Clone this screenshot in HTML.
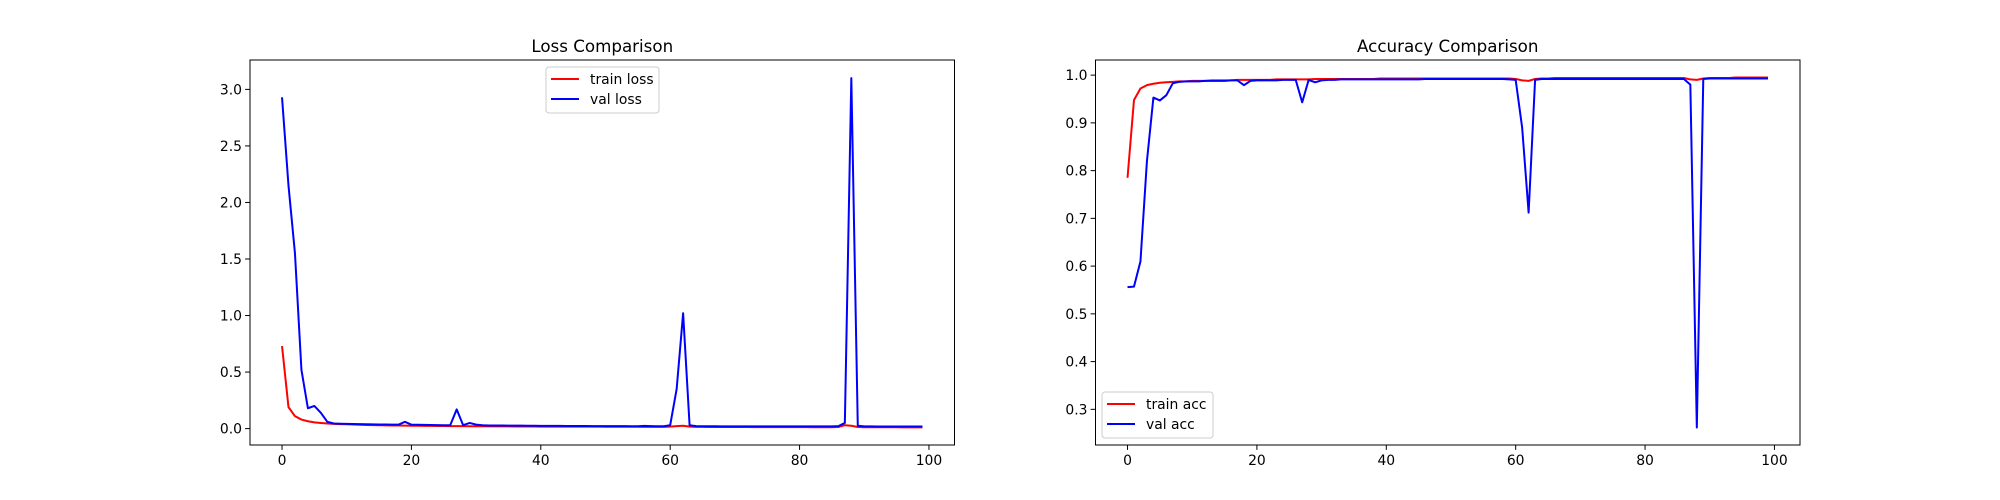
<!DOCTYPE html>
<html><head><meta charset="utf-8">
<style>
html,body{margin:0;padding:0;background:#fff;}
svg{display:block;font-family:"DejaVu Sans","Liberation Sans",sans-serif;}
</style></head>
<body>
<svg id="fig" width="2000" height="500" viewBox="0 0 2000 500" xmlns="http://www.w3.org/2000/svg"></svg>
<script>
const epochs = Array.from({length:100},(_,i)=>i);
const trainLoss = [0.73,0.19,0.11,0.08,0.065,0.055,0.05,0.045,0.042,0.04,0.038,0.036,0.034,0.032,0.031,0.03,0.029,0.028,0.027,0.026,0.025,0.025,0.024,0.024,0.023,0.023,0.022,0.022,0.022,0.021,0.021,0.021,0.02,0.02,0.02,0.02,0.019,0.019,0.019,0.019,0.018,0.018,0.018,0.018,0.018,0.017,0.017,0.017,0.017,0.017,0.016,0.016,0.016,0.016,0.016,0.016,0.015,0.015,0.015,0.015,0.018,0.022,0.025,0.018,0.015,0.015,0.014,0.014,0.014,0.014,0.014,0.014,0.014,0.013,0.013,0.013,0.013,0.013,0.013,0.013,0.013,0.013,0.012,0.012,0.012,0.012,0.014,0.03,0.025,0.014,0.012,0.012,0.012,0.012,0.012,0.012,0.011,0.011,0.011,0.011];
const valLoss = [2.93,2.15,1.55,0.52,0.18,0.2,0.14,0.06,0.045,0.043,0.042,0.041,0.04,0.038,0.037,0.036,0.036,0.035,0.035,0.06,0.035,0.034,0.033,0.032,0.031,0.03,0.03,0.17,0.03,0.05,0.035,0.03,0.028,0.027,0.027,0.026,0.026,0.026,0.025,0.025,0.024,0.024,0.024,0.024,0.023,0.023,0.023,0.023,0.022,0.022,0.022,0.022,0.022,0.022,0.021,0.021,0.024,0.022,0.021,0.021,0.03,0.35,1.02,0.03,0.022,0.021,0.021,0.021,0.02,0.02,0.02,0.02,0.02,0.02,0.02,0.02,0.02,0.02,0.02,0.02,0.02,0.02,0.02,0.02,0.02,0.02,0.022,0.05,3.1,0.025,0.02,0.02,0.019,0.019,0.019,0.019,0.019,0.019,0.019,0.019];
const trainAcc = [0.785,0.948,0.972,0.979,0.982,0.984,0.985,0.986,0.987,0.987,0.988,0.988,0.988,0.989,0.989,0.989,0.989,0.99,0.99,0.99,0.99,0.99,0.99,0.991,0.991,0.991,0.991,0.991,0.991,0.992,0.992,0.992,0.992,0.992,0.992,0.992,0.992,0.992,0.992,0.993,0.993,0.993,0.993,0.993,0.993,0.993,0.993,0.993,0.993,0.993,0.993,0.993,0.993,0.993,0.993,0.993,0.993,0.993,0.993,0.993,0.992,0.989,0.988,0.992,0.993,0.993,0.994,0.994,0.994,0.994,0.994,0.994,0.994,0.994,0.994,0.994,0.994,0.994,0.994,0.994,0.994,0.994,0.994,0.994,0.994,0.994,0.994,0.991,0.99,0.993,0.994,0.994,0.994,0.994,0.995,0.995,0.995,0.995,0.995,0.995];
const valAcc = [0.556,0.557,0.61,0.82,0.953,0.947,0.958,0.983,0.986,0.987,0.987,0.987,0.988,0.988,0.988,0.988,0.989,0.989,0.979,0.988,0.989,0.989,0.989,0.989,0.99,0.99,0.99,0.943,0.99,0.985,0.989,0.99,0.99,0.991,0.991,0.991,0.991,0.991,0.991,0.991,0.991,0.991,0.991,0.991,0.991,0.991,0.992,0.992,0.992,0.992,0.992,0.992,0.992,0.992,0.992,0.992,0.992,0.992,0.992,0.991,0.99,0.89,0.712,0.99,0.992,0.992,0.992,0.992,0.992,0.992,0.992,0.992,0.992,0.992,0.992,0.992,0.992,0.992,0.992,0.992,0.992,0.992,0.992,0.992,0.992,0.992,0.992,0.98,0.262,0.992,0.993,0.993,0.993,0.993,0.993,0.993,0.993,0.993,0.993,0.993];
const xTicks = [0,20,40,60,80,100];
const lossTicks = ["0.0","0.5","1.0","1.5","2.0","2.5","3.0"];
const accTicks = ["0.3","0.4","0.5","0.6","0.7","0.8","0.9","1.0"];

const NS="http://www.w3.org/2000/svg";
const svg=document.getElementById('fig');
function mk(tag,attrs,parent){const e=document.createElementNS(NS,tag);for(const k in attrs)e.setAttribute(k,attrs[k]);(parent||svg).appendChild(e);return e;}

function drawAxes(cfg){
  const g=mk('g',{});
  
  
  const L=cfg.left,R=cfg.right,T=60,B=445;
  const xmin=-4.95,xmax=103.95;
  const sx=v=>L+(v-xmin)/(xmax-xmin)*(R-L);
  const sy=v=>B-(v-cfg.ymin)/(cfg.ymax-cfg.ymin)*(B-T);
  // x ticks
  xTicks.forEach(t=>{
    if(sx(t)>R+0.5)return;
    mk('line',{x1:sx(t),x2:sx(t),y1:B,y2:B+4.9,stroke:'#000','stroke-width':1},g);
    const tx=mk('text',{x:sx(t),y:B+20,'font-size':13.9,'text-anchor':'middle',fill:'#000'},g);
    tx.textContent=t;
    
    
  });
  cfg.yticks.forEach(s=>{
    const v=parseFloat(s);
    mk('line',{x1:L-4.9,x2:L,y1:sy(v),y2:sy(v),stroke:'#000','stroke-width':1},g);
    const tx=mk('text',{x:L-8,y:sy(v)+5,'font-size':13.9,'text-anchor':'end',fill:'#000'},g);
    tx.textContent=s;
    
    
  });
  const ser=[[cfg.a,'#ff0000',cfg.la],[cfg.b,'#0000ff',cfg.lb]];
  ser.forEach(([d,c,n])=>{
    const p=mk('polyline',{points:d.map((v,i)=>sx(epochs[i]).toFixed(2)+','+sy(v).toFixed(2)).join(' '),fill:'none',stroke:c,'stroke-width':2,'stroke-linejoin':'round'},g);
    
    
  });
  const fr=mk('rect',{x:L,y:T,width:R-L,height:B-T,fill:'none',stroke:'#000','stroke-width':1},g);
  
  
  const ti=mk('text',{x:(L+R)/2,y:T-8,'font-size':16.7,'text-anchor':'middle',fill:'#000'},g);
  ti.textContent=cfg.title;
  
  
  // legend
  const lg=mk('g',{},g);
  
  
  const lx=cfg.lx,ly=cfg.ly,lw=cfg.lw;
  mk('rect',{x:lx,y:ly,width:lw,height:46,rx:3,fill:'#fff','fill-opacity':0.8,stroke:'#ccc','stroke-width':1},lg);
  ser.forEach(([d,c,n],i)=>{
    const yy=ly+12+i*20;
    mk('line',{x1:lx+5,x2:lx+33,y1:yy,y2:yy,stroke:c,'stroke-width':2},lg);
    const t=mk('text',{x:lx+44,y:yy+5,'font-size':13.9,fill:'#000'},lg);
    t.textContent=n;
    
    
  });
}
drawAxes({name:'loss-chart',title:'Loss Comparison',left:250,right:954.5,ymin:-0.145,ymax:3.26,yticks:lossTicks,a:trainLoss,b:valLoss,la:'train loss',lb:'val loss',lx:546,ly:67,lw:113});
drawAxes({name:'accuracy-chart',title:'Accuracy Comparison',left:1095.5,right:1800,ymin:0.2253,ymax:1.0317,yticks:accTicks,a:trainAcc,b:valAcc,la:'train acc',lb:'val acc',lx:1102,ly:392,lw:111});
</script>
</body></html>
